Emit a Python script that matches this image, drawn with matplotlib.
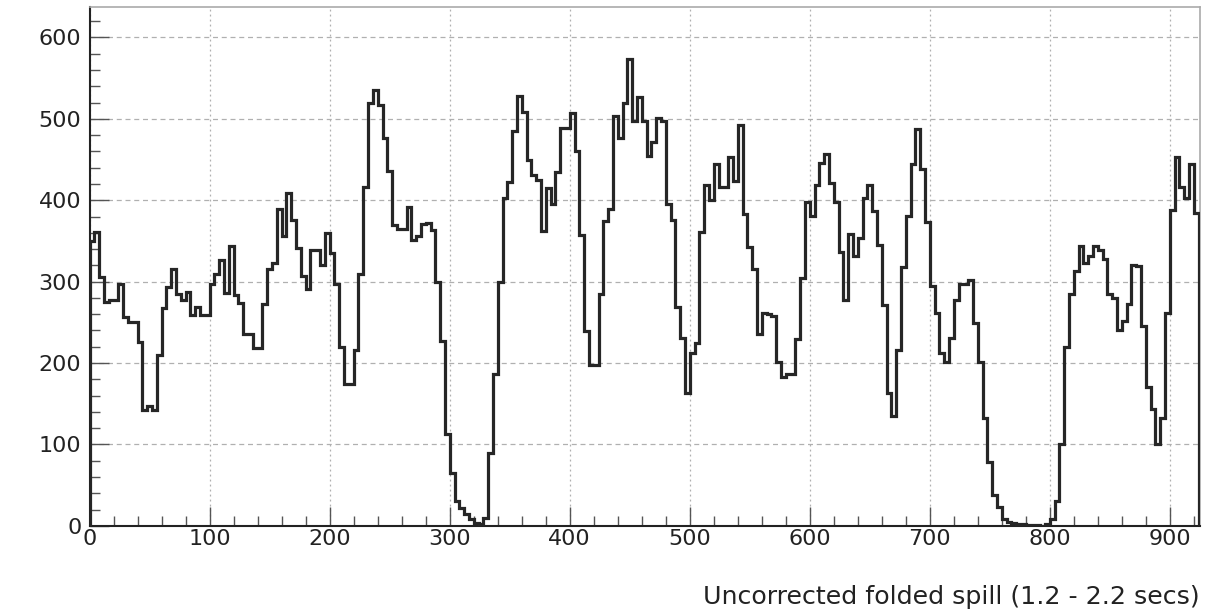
import numpy as np
import matplotlib.pyplot as plt
from matplotlib.ticker import MultipleLocator

# bin contents, 4 units per bin starting at 0
counts = [
    350, 361, 306, 275, 278, 278, 297, 257, 250, 250, 226, 142, 147, 142, 210, 268, 293, 315, 285, 277,
    287, 259, 269, 259, 259, 297, 309, 326,
    286, 344, 284, 274, 236, 236, 218, 218, 273, 315, 323, 389, 356, 409, 376, 341, 307, 291, 339, 339,
    321, 360,
    335, 297, 220, 174, 174, 216, 310, 416, 519, 536, 517, 477, 436, 370, 365, 365, 392, 351, 356, 371,
    372, 363, 299, 227, 113, 65, 30,
    22, 15, 8, 3, 2, 10, 89, 186, 299, 403, 422, 485, 528, 508, 449, 431, 425, 362, 415, 396,
    435, 489, 489, 507, 461, 357, 239, 198, 198, 285, 374, 389, 503, 477, 520, 574, 497, 527, 497, 455,
    471, 501,
    497, 396, 376, 269, 231, 163, 212, 225, 361, 419, 400, 444, 416, 416, 453, 424, 493, 383, 343, 315,
    236, 262, 260, 258, 201, 183, 186, 186, 229, 304, 398, 381, 419, 446, 457, 421, 398, 337, 278,
    359, 332, 354, 403, 419, 387, 345, 271, 163, 135, 216, 318, 381, 445, 487, 438, 373, 295, 262, 212,
    201, 231, 278, 297, 297, 302, 249, 201, 133, 78, 38, 23, 8, 5,
    3, 2, 2, 1, 1, 1, 0, 2, 8,
    30, 100, 220, 285, 313, 344, 323, 331, 344, 339, 328, 285, 280, 241, 252, 273, 321, 319, 245, 171,
    143, 100, 133, 262, 388, 453, 416, 403, 444, 384,
]
bin_width = 4
x_ticks = [0, 100, 200, 300, 400, 500, 600, 700, 800, 900]
y_ticks = [0, 100, 200, 300, 400, 500, 600]
xlabel = "Uncorrected folded spill (1.2 - 2.2 secs)"

edges = np.arange(len(counts) + 1) * bin_width

plt.rcParams['font.family'] = ['DejaVu Sans']

fig = plt.figure(figsize=(12.07, 6.15), dpi=100)
ax = fig.add_axes([0.0743, 0.145, 0.9197, 0.843])

ax.stairs(counts, edges, baseline=0, color='#262626', lw=2.3, zorder=3)

ax.set_xlim(0, 925)
ax.set_ylim(0, 637)
ax.set_xticks(x_ticks)
ax.set_yticks(y_ticks)
ax.xaxis.set_minor_locator(MultipleLocator(20))
ax.yaxis.set_minor_locator(MultipleLocator(20))

ax.tick_params(which='major', direction='in', length=14, width=1, color='#555555',
               labelsize=16, top=False, right=False, labelcolor='#222222')
ax.tick_params(which='minor', direction='in', length=7, width=1, color='#555555',
               top=False, right=False)
ax.tick_params(axis='x', which='major', pad=2)
ax.tick_params(axis='y', which='major', pad=6)

# ROOT-like grid
ax.grid(axis='y', which='major', color='#b0b0b0', ls=(0, (4, 3)), lw=0.9)
ax.grid(axis='x', which='major', color='#b0b0b0', ls=(0, (1.5, 2.5)), lw=0.9)

for s in ['left', 'bottom']:
    ax.spines[s].set_color('#222222')
    ax.spines[s].set_linewidth(1.5)
for s in ['top', 'right']:
    ax.spines[s].set_color('#aaaaaa')
    ax.spines[s].set_linewidth(1.2)

ax.set_xlabel(xlabel, fontsize=18.2, loc='right', labelpad=26, color='#222222')

fig.savefig('out.png', dpi=100)
